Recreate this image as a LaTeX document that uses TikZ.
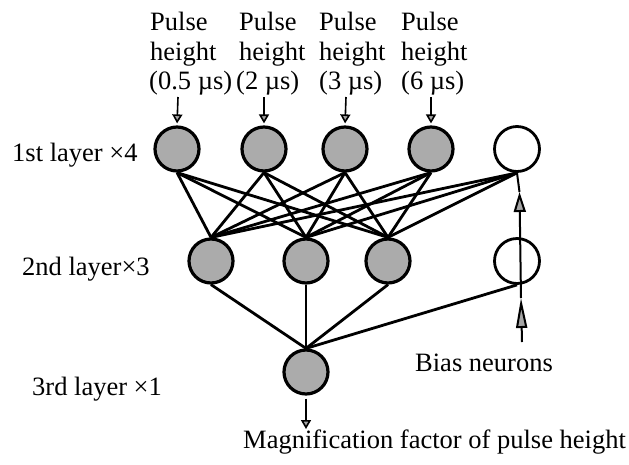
\documentclass[tikz,border=0pt]{standalone}
\usepackage{fontspec}
\setmainfont{Liberation Serif}
\usetikzlibrary{arrows.meta}
\begin{document}
\begin{tikzpicture}[x=1pt,y=-1pt,
  neuron/.style={circle, draw=black, line width=3.2pt, fill=black!33, minimum size=44pt, inner sep=0pt},
  biasn/.style={circle, draw=black, line width=2.8pt, fill=white, minimum size=45pt, inner sep=0pt},
  conn/.style={line width=2.8pt},
  inarrow/.style={line width=1.6pt, -{Triangle[length=9pt,width=10pt,fill=black!35]}},
  biasarrow/.style={line width=2pt, -{Triangle[length=20pt,width=12pt,fill=black!35]}},
  biasarrowlong/.style={line width=2pt, -{Triangle[length=30pt,width=11pt,fill=black!35]}},
  lbl/.style={font=\fontsize{26.5}{30}\selectfont, inner sep=0pt, anchor=base west},
]
\useasboundingbox (0,0) rectangle (629,464);

% input labels
\node[lbl] (p1a) at (150,30) {Pulse};
\node[lbl] (p1b) at (150,60) {height};
\node[lbl] (p1c) at (149,89) {(0.5 µs)};
\node[lbl] (p2a) at (239,30) {Pulse};
\node[lbl] (p2b) at (239,60) {height};
\node[lbl] (p2c) at (236,89) {(2 µs)};
\node[lbl] (p3a) at (319,30) {Pulse};
\node[lbl] (p3b) at (319,60) {height};
\node[lbl] (p3c) at (319,89) {(3 µs)};
\node[lbl] (p4a) at (401,30) {Pulse};
\node[lbl] (p4b) at (401,60) {height};
\node[lbl] (p4c) at (401,89) {(6 µs)};

% layer labels
\node[lbl] (l1) at (12,161) {1st layer ×4};
\node[lbl] (l2) at (22,275) {2nd layer×3};
\node[lbl] (l3) at (32,395) {3rd layer ×1};
\node[lbl] (bl) at (415,371) {Bias neurons};
\node[lbl] (ml) at (243,448) {Magnification factor of pulse height};

% neurons
\node[neuron] (n1) at (177,149) {};
\node[neuron] (n2) at (264,149) {};
\node[neuron] (n3) at (345,149) {};
\node[neuron] (n4) at (431,149) {};
\node[biasn]  (b1) at (517,149) {};
\node[neuron] (m1) at (211,261) {};
\node[neuron] (m2) at (306,261) {};
\node[neuron] (m3) at (388,261) {};
\node[biasn]  (b2) at (517,261) {};
\node[neuron] (o)  at (306,372) {};

% connections
\foreach \a in {n1,n2,n3,n4,b1}
  \foreach \b in {m1,m2,m3}
    \draw[conn] (\a.south) -- (\b.north);
\foreach \a in {m1,m2,m3,b2}
  \draw[conn] (\a.south) -- (o.north);

% input arrows
\coordinate (i1) at (178,97);
\coordinate (i2) at (264,97);
\coordinate (i3) at (346,97);
\coordinate (i4) at (431,97);
\draw[inarrow, shorten >=2pt] (i1) -- (n1.north);
\draw[inarrow, shorten >=2pt] (i2) -- (n2.north);
\draw[inarrow, shorten >=2pt] (i3) -- (n3.north);
\draw[inarrow, shorten >=2pt] (i4) -- (n4.north);

% output arrow
\coordinate (oe) at (306,429);
\draw[inarrow, shorten <=3pt] (o.south) -- (oe);

% bias arrow
\coordinate (c0) at (522,342);
\coordinate (c1) at (521,298);
\coordinate (c2) at (519.5,192);
\draw[biasarrowlong] (c0) -- (c1);
\draw[biasarrow] (c1) -- (c2);
\draw[line width=2pt] (c2) -- (b1.south);
\end{tikzpicture}
\end{document}
